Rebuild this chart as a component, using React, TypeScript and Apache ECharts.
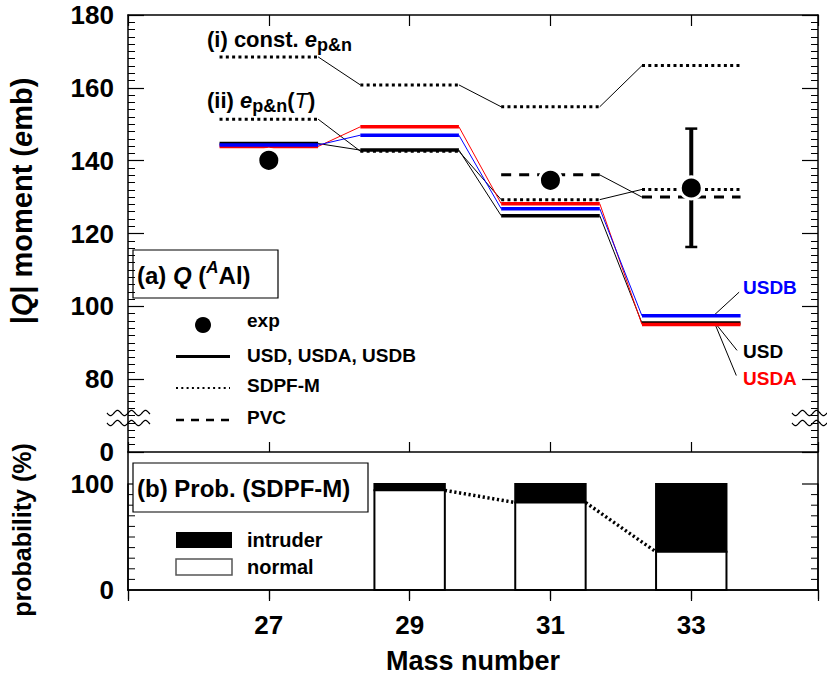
import React, { useEffect, useRef } from 'react';
import * as echarts from 'echarts';

// ---------- data ----------
const massNumbers = [27, 29, 31, 33];
const xTickLabels = ['27', '29', '31', '33'];

const expMass = [27, 31, 33];
const expQ = [140.1, 134.6, 132.5];
const errMass = [33];
const errLow = [116.3];
const errHigh = [148.8];

const usdQ = [144.7, 142.9, 124.9, 95.4];
const usdaQ = [143.9, 149.3, 128.2, 95.0];
const usdbQ = [144.3, 147.0, 126.8, 97.4];
const sdpfConstQ = [168.5, 160.8, 154.8, 166.1];
const sdpfTempQ = [151.4, 142.6, 129.3, 132.1];
const pvcMass = [31, 33];
const pvcQ = [136.1, 130.0];

const probMass = [29, 31, 33];
const normalProb = [94, 82.5, 36];
const intruderProb = [6, 17.5, 64];

// annotation pointer lines (data coords)
const pointerUSDB = [[33.32, 97.5], [33.68, 103.9]];
const pointerUSD = [[33.34, 95.4], [33.65, 87.9]];
const pointerUSDA = [[33.34, 95.0], [33.64, 81.0]];

const topYLabels: Record<number, string> = { 60: '0', 80: '80', 100: '100', 120: '120', 140: '140', 160: '160', 180: '180' };
const bottomYLabels: Record<number, string> = { 0: '0', 100: '100' };
const probTickValues = [10, 20, 30, 40, 50, 60, 70, 80, 90, 100];
const probMajorTicks = [100];

const FONT = "'Liberation Sans', Arial, Helvetica, sans-serif";
const HALF = 0.7;
const BAR_HALF = 0.5;
const X_MIN = 25;
const X_MAX = 34.8;

function steps(mass: number[], vals: number[]) {
  const out: any[] = [];
  mass.forEach((m, i) => {
    out.push([m - HALF, vals[i]], [m + HALF, vals[i]], [m + 1, null]);
  });
  return out;
}
function links(mass: number[], vals: number[], half = HALF) {
  const out: any[] = [];
  for (let i = 0; i < mass.length - 1; i++) {
    out.push([mass[i] + half, vals[i]], [mass[i + 1] - half, vals[i + 1]], [mass[i] + 1, null]);
  }
  return out;
}
function wiggle(x0: number, x1: number, yc: number) {
  const pts: number[][] = [];
  for (let x = x0; x <= x1; x += 1) {
    pts.push([x, yc + 2.6 * Math.sin(((x - x0) / 14) * 2 * Math.PI)]);
  }
  return pts;
}

const lineSeries = (name: string, data: any[], color: string, width: number, type: any = 'solid', z = 3) => ({
  name,
  type: 'line',
  xAxisIndex: 0,
  yAxisIndex: 0,
  data,
  showSymbol: false,
  symbol: 'none',
  connectNulls: false,
  silent: true,
  z,
  lineStyle: { color, width, type, cap: 'butt', opacity: 1 },
});

export default function App() {
  const ref = useRef<HTMLDivElement>(null);
  useEffect(() => {
    if (!ref.current) return;
    const chart = echarts.init(ref.current, null, { renderer: 'svg' });

    const axisLine = { show: true, lineStyle: { color: '#000', width: 1.5 } };
    const xBase = {
      type: 'value',
      min: X_MIN,
      max: X_MAX,
      interval: 2,
      axisLine,
      splitLine: { show: false },
    };
    const labelStyle = { fontSize: 26, fontWeight: 'bold', color: '#000', fontFamily: FONT };
    const tick = (length: number, inside = true) => ({ show: true, inside, length, lineStyle: { color: '#000', width: 1.2 } });
    const minor = { show: true, splitNumber: 10, length: 7, lineStyle: { color: '#000', width: 1 } };

    const gLeft = 128, gWidth = 690;

    const option: any = {
      animation: false,
      backgroundColor: '#fff',
      grid: [
        { left: gLeft, top: 15, width: gWidth, height: 437 },   // (a) panel
        { left: gLeft, top: 452, width: gWidth, height: 138 },  // (b) frame
        { left: gLeft, top: 484, width: gWidth, height: 106 },  // (b) data, 0..100 %
      ],
      xAxis: [
        { ...xBase, gridIndex: 0, position: 'bottom', axisTick: tick(10), axisLabel: { show: false } },
        { ...xBase, gridIndex: 0, position: 'top', axisTick: tick(11), axisLabel: { show: false } },
        {
          ...xBase, gridIndex: 1, position: 'bottom',
          axisTick: tick(11, false),
          axisLabel: { ...labelStyle, margin: 22, formatter: (v: number) => { const i = massNumbers.indexOf(v); return i >= 0 ? xTickLabels[i] : ''; } },
          name: 'Mass number', nameLocation: 'middle', nameGap: 57,
          nameTextStyle: { fontSize: 27, fontWeight: 'bold', color: '#000', fontFamily: FONT },
        },
        { ...xBase, gridIndex: 1, position: 'top', axisTick: tick(9), axisLabel: { show: false } },
        { ...xBase, gridIndex: 2, position: 'bottom', axisLine: { show: false }, axisTick: { show: false }, axisLabel: { show: false } },
      ],
      yAxis: [
        {
          type: 'value', gridIndex: 0, position: 'left', min: 60, max: 180, interval: 20,
          axisLine, splitLine: { show: false }, minorSplitLine: { show: false },
          axisTick: tick(16), minorTick: minor,
          axisLabel: { ...labelStyle, margin: 14, formatter: (v: number) => topYLabels[v] ?? '' },
        },
        {
          type: 'value', gridIndex: 0, position: 'right', min: 60, max: 180, interval: 20,
          axisLine, splitLine: { show: false }, minorSplitLine: { show: false },
          axisTick: tick(16), minorTick: minor,
          axisLabel: { show: false },
        },
        {
          type: 'value', gridIndex: 1, position: 'left', min: 0, max: 1,
          axisLine, splitLine: { show: false }, axisTick: { show: false }, axisLabel: { show: false },
        },
        {
          type: 'value', gridIndex: 1, position: 'right', min: 0, max: 1,
          axisLine, splitLine: { show: false }, axisTick: { show: false }, axisLabel: { show: false },
        },
        {
          type: 'value', gridIndex: 2, position: 'left', min: 0, max: 100, interval: 100,
          axisLine, splitLine: { show: false }, axisTick: { show: false },
          axisLabel: { ...labelStyle, margin: 14, formatter: (v: number) => bottomYLabels[v] ?? '' },
        },
        {
          type: 'value', gridIndex: 2, position: 'right', min: 0, max: 100, interval: 100,
          axisLine, splitLine: { show: false }, axisTick: { show: false },
          axisLabel: { show: false },
        },
      ],
      series: [
        // connectors (thin)
        lineSeries('SDPF-M const link', links(massNumbers, sdpfConstQ), '#000', 1),
        lineSeries('SDPF-M T link', links(massNumbers, sdpfTempQ), '#000', 1),
        lineSeries('PVC link', links(pvcMass, pvcQ), '#000', 1),
        lineSeries('USD link', links(massNumbers, usdQ), '#000', 1),
        lineSeries('USDA link', links(massNumbers, usdaQ), '#ff0000', 1),
        lineSeries('USDB link', links(massNumbers, usdbQ), '#0000ff', 1),
        // horizontal levels
        lineSeries('SDPF-M const', steps(massNumbers, sdpfConstQ), '#000', 3, [3, 3.3], 4),
        lineSeries('SDPF-M T', steps(massNumbers, sdpfTempQ), '#000', 3, [3, 3.3], 5),
        lineSeries('PVC', steps(pvcMass, pvcQ), '#000', 3, [10, 8], 4),
        lineSeries('USD', steps(massNumbers, usdQ), '#000', 3.5, 'solid', 4),
        lineSeries('USDA', steps(massNumbers, usdaQ), '#ff0000', 3.5, 'solid', 4),
        lineSeries('USDB', steps(massNumbers, usdbQ), '#0000ff', 3.5, 'solid', 4),
        // pointers
        lineSeries('USDB pointer', pointerUSDB, '#000', 1),
        lineSeries('USD pointer', pointerUSD, '#000', 1),
        lineSeries('USDA pointer', pointerUSDA, '#000', 1),
        {
          name: 'exp err',
          type: 'custom',
          xAxisIndex: 0,
          yAxisIndex: 0,
          z: 6,
          silent: true,
          data: errMass.map((m, i) => [m, errLow[i], errHigh[i]]),
          encode: { x: 0, y: [1, 2] },
          renderItem: (params: any, api: any) => {
            const x = api.value(0);
            const lo = api.coord([x, api.value(1)]);
            const hi = api.coord([x, api.value(2)]);
            const cw = 6;
            return {
              type: 'group',
              children: [
                { type: 'line', shape: { x1: lo[0], y1: lo[1], x2: hi[0], y2: hi[1] }, style: { stroke: '#000', lineWidth: 4 } },
                { type: 'line', shape: { x1: lo[0] - cw, y1: lo[1], x2: lo[0] + cw, y2: lo[1] }, style: { stroke: '#000', lineWidth: 2.5 } },
                { type: 'line', shape: { x1: hi[0] - cw, y1: hi[1], x2: hi[0] + cw, y2: hi[1] }, style: { stroke: '#000', lineWidth: 2.5 } },
              ],
            };
          },
        },
        {
          name: 'exp',
          type: 'scatter',
          xAxisIndex: 0,
          yAxisIndex: 0,
          z: 7,
          silent: true,
          symbol: 'circle',
          symbolSize: 22,
          itemStyle: { color: '#000', borderColor: '#fff', borderWidth: 3, opacity: 1 },
          data: expMass.map((m, i) => [m, expQ[i]]),
        },
        // probability panel: stacked normal / intruder bars
        {
          name: 'Prob. (SDPF-M)',
          type: 'custom',
          xAxisIndex: 4,
          yAxisIndex: 4,
          silent: true,
          z: 4,
          clip: false,
          data: probMass.map((m, i) => [m, normalProb[i], intruderProb[i]]),
          encode: { x: 0, y: [1, 2] },
          renderItem: (params: any, api: any) => {
            const m = api.value(0);
            const nrm = api.value(1);
            const itr = api.value(2);
            const p0 = api.coord([m - BAR_HALF, 0]);
            const p1 = api.coord([m + BAR_HALF, nrm]);
            const p2 = api.coord([m + BAR_HALF, nrm + itr]);
            const w = p1[0] - p0[0];
            return {
              type: 'group',
              children: [
                { type: 'rect', shape: { x: p0[0], y: p2[1], width: w, height: p1[1] - p2[1] }, style: { fill: '#000', stroke: '#000', lineWidth: 2 } },
                { type: 'rect', shape: { x: p0[0], y: p1[1], width: w, height: p0[1] - p1[1] }, style: { fill: '#fff', stroke: '#000', lineWidth: 2 } },
              ],
            };
          },
        },
        {
          name: 'normal link',
          type: 'line',
          xAxisIndex: 4,
          yAxisIndex: 4,
          showSymbol: false,
          symbol: 'none',
          silent: true,
          z: 5,
          lineStyle: { color: '#000', width: 3.5, type: [2.2, 2.6], cap: 'butt', opacity: 1 },
          data: links(probMass, normalProb, BAR_HALF),
        },
        // probability axis ticks (left and right frame), placed by the axis scale
        {
          name: 'prob ticks',
          type: 'custom',
          xAxisIndex: 4,
          yAxisIndex: 4,
          silent: true,
          z: 8,
          clip: false,
          data: probTickValues.map((v) => [X_MIN, v]),
          encode: { x: 0, y: 1 },
          renderItem: (params: any, api: any) => {
            const v = api.value(1);
            const len = probMajorTicks.indexOf(v) >= 0 ? 16 : 7;
            const l = api.coord([X_MIN, v]);
            const r = api.coord([X_MAX, v]);
            const w = len > 7 ? 1.2 : 1;
            return {
              type: 'group',
              children: [
                { type: 'line', shape: { x1: l[0], y1: l[1], x2: l[0] + len, y2: l[1] }, style: { stroke: '#000', lineWidth: w } },
                { type: 'line', shape: { x1: r[0] - len, y1: r[1], x2: r[0], y2: r[1] }, style: { stroke: '#000', lineWidth: w } },
              ],
            };
          },
        },
      ],
      graphic: [
        // y titles
        {
          type: 'text', x: 22, y: 201, rotation: Math.PI / 2, z: 10,
          style: {
            text: '{n||}{q|Q}{n|| moment (}{e|e}{n|mb)}', align: 'center', verticalAlign: 'middle',
            fill: '#000', fontSize: 29, fontWeight: 'bold', fontFamily: FONT,
            rich: {
              n: { fontSize: 29, fontWeight: 'bold', fontFamily: FONT, fill: '#000' },
              q: { fontSize: 29, fontWeight: 'bold', fontStyle: 'italic', fontFamily: FONT, fill: '#000' },
              e: { fontSize: 29, fontWeight: 'bold', fontStyle: 'italic', fontFamily: FONT, fill: '#000' },
            },
          },
        },
        {
          type: 'text', x: 22, y: 530, rotation: Math.PI / 2, z: 10,
          style: { text: 'probability (%)', align: 'center', verticalAlign: 'middle', fill: '#000', fontSize: 25, fontWeight: 'bold', fontFamily: FONT },
        },
        // model annotations
        {
          type: 'text', x: 207, y: 39, z: 10,
          style: {
            text: '{n|(i) const. }{e|e}{s|p&n}', align: 'left', verticalAlign: 'middle',
            fill: '#000', fontSize: 22, fontWeight: 'bold', fontFamily: FONT,
            rich: {
              n: { fontSize: 22, fontWeight: 'bold', fontFamily: FONT, fill: '#000' },
              e: { fontSize: 22, fontWeight: 'bold', fontStyle: 'italic', fontFamily: FONT, fill: '#000' },
              s: { fontSize: 18, fontWeight: 'bold', fontFamily: FONT, fill: '#000', padding: [12, 0, 0, 0] },
            },
          },
        },
        {
          type: 'text', x: 207, y: 100, z: 10,
          style: {
            text: '{n|(ii) }{e|e}{s|p&n}{n|(}{t|T}{n|)}', align: 'left', verticalAlign: 'middle',
            fill: '#000', fontSize: 22, fontWeight: 'bold', fontFamily: FONT,
            rich: {
              n: { fontSize: 22, fontWeight: 'bold', fontFamily: FONT, fill: '#000' },
              e: { fontSize: 22, fontWeight: 'bold', fontStyle: 'italic', fontFamily: FONT, fill: '#000' },
              t: { fontSize: 22, fontWeight: 'normal', fontStyle: 'italic', fontFamily: FONT, fill: '#000' },
              s: { fontSize: 18, fontWeight: 'bold', fontFamily: FONT, fill: '#000', padding: [12, 0, 0, 0] },
            },
          },
        },
        { type: 'text', x: 743, y: 287, z: 10, style: { text: 'USDB', fill: '#0000ff', fontSize: 19, fontWeight: 'bold', fontFamily: FONT, verticalAlign: 'middle' } },
        { type: 'text', x: 743, y: 351, z: 10, style: { text: 'USD', fill: '#000', fontSize: 19, fontWeight: 'bold', fontFamily: FONT, verticalAlign: 'middle' } },
        { type: 'text', x: 743, y: 378, z: 10, style: { text: 'USDA', fill: '#ff0000', fontSize: 19, fontWeight: 'bold', fontFamily: FONT, verticalAlign: 'middle' } },
        // (a) box
        { type: 'rect', z: 10, shape: { x: 133, y: 250, width: 145, height: 48 }, style: { fill: 'none', stroke: '#000', lineWidth: 1.2 } },
        {
          type: 'text', x: 137, y: 275, z: 11,
          style: {
            text: '{n|(a) }{q|Q}{n| (}{sup|A}{n|Al)}', align: 'left', verticalAlign: 'middle',
            fill: '#000', fontSize: 24, fontWeight: 'bold', fontFamily: FONT,
            rich: {
              n: { fontSize: 24, fontWeight: 'bold', fontFamily: FONT, fill: '#000' },
              q: { fontSize: 24, fontWeight: 'bold', fontStyle: 'italic', fontFamily: FONT, fill: '#000' },
              sup: { fontSize: 17, fontWeight: 'bold', fontStyle: 'italic', fontFamily: FONT, fill: '#000', padding: [0, 0, 16, 0] },
            },
          },
        },
        // (a) legend
        { type: 'circle', z: 10, shape: { cx: 203, cy: 325, r: 8 }, style: { fill: '#000' } },
        { type: 'text', x: 247, y: 320, z: 10, style: { text: 'exp', fill: '#000', fontSize: 19, fontWeight: 'bold', fontFamily: FONT, verticalAlign: 'middle' } },
        { type: 'line', z: 10, shape: { x1: 176, y1: 356.5, x2: 230, y2: 356.5 }, style: { stroke: '#000', lineWidth: 3 } },
        { type: 'text', x: 247, y: 355, z: 10, style: { text: 'USD, USDA, USDB', fill: '#000', fontSize: 19, fontWeight: 'bold', fontFamily: FONT, verticalAlign: 'middle' } },
        { type: 'line', z: 10, shape: { x1: 176, y1: 388, x2: 230, y2: 388 }, style: { stroke: '#000', lineWidth: 2.2, lineDash: [2, 3.3] } },
        { type: 'text', x: 247, y: 385, z: 10, style: { text: 'SDPF-M', fill: '#000', fontSize: 19, fontWeight: 'bold', fontFamily: FONT, verticalAlign: 'middle' } },
        { type: 'line', z: 10, shape: { x1: 176, y1: 420, x2: 230, y2: 420 }, style: { stroke: '#000', lineWidth: 2.5, lineDash: [8, 7] } },
        { type: 'text', x: 247, y: 417, z: 10, style: { text: 'PVC', fill: '#000', fontSize: 19, fontWeight: 'bold', fontFamily: FONT, verticalAlign: 'middle' } },
        // (b) box
        { type: 'rect', z: 10, shape: { x: 133, y: 463, width: 235, height: 49 }, style: { fill: '#fff', stroke: '#000', lineWidth: 1.2 } },
        { type: 'text', x: 137, y: 488, z: 11, style: { text: '(b) Prob. (SDPF-M)', fill: '#000', fontSize: 24, fontWeight: 'bold', fontFamily: FONT, verticalAlign: 'middle' } },
        // (b) legend
        { type: 'rect', z: 10, shape: { x: 176, y: 532, width: 56, height: 16 }, style: { fill: '#000' } },
        { type: 'text', x: 247, y: 540, z: 10, style: { text: 'intruder', fill: '#000', fontSize: 20, fontWeight: 'bold', fontFamily: FONT, verticalAlign: 'middle' } },
        { type: 'rect', z: 10, shape: { x: 176, y: 559, width: 56, height: 16 }, style: { fill: '#fff', stroke: '#555', lineWidth: 1.5 } },
        { type: 'text', x: 247, y: 567, z: 10, style: { text: 'normal', fill: '#000', fontSize: 20, fontWeight: 'bold', fontFamily: FONT, verticalAlign: 'middle' } },
        // axis break marks
        { type: 'polyline', z: 12, shape: { points: wiggle(107, 150, 413) }, style: { stroke: '#000', lineWidth: 1.2, fill: 'none' } },
        { type: 'polyline', z: 12, shape: { points: wiggle(107, 150, 423) }, style: { stroke: '#000', lineWidth: 1.2, fill: 'none' } },
        { type: 'polyline', z: 12, shape: { points: wiggle(792, 827, 413) }, style: { stroke: '#000', lineWidth: 1.2, fill: 'none' } },
        { type: 'polyline', z: 12, shape: { points: wiggle(792, 827, 423) }, style: { stroke: '#000', lineWidth: 1.2, fill: 'none' } },
      ],
    };

    chart.setOption(option);
    return () => chart.dispose();
  }, []);

  return (
    <div
      ref={ref}
      style={{ position: 'fixed', left: 0, top: 0, width: 827, height: 682, background: '#fff' }}
    />
  );
}
